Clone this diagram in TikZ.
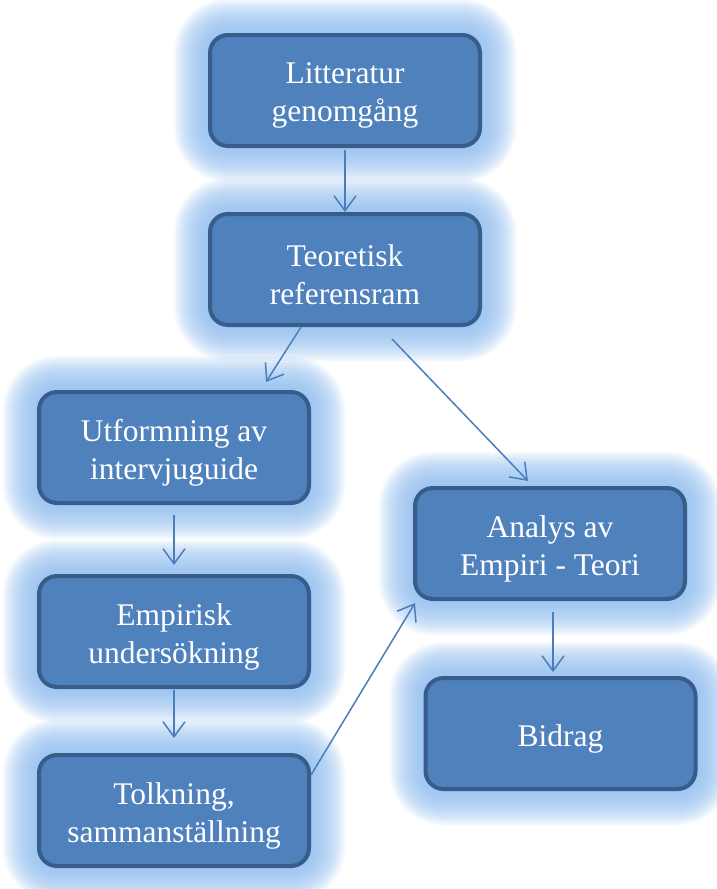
\documentclass[tikz,border=0pt]{standalone}
\usepackage{fontspec}
\setmainfont{Liberation Serif}
\usetikzlibrary{arrows.meta,backgrounds}

\definecolor{boxfill}{RGB}{79,129,189}
\definecolor{boxline}{RGB}{56,93,138}
\definecolor{arrowcol}{RGB}{74,126,187}
\definecolor{glowcol}{RGB}{140,186,238}

\tikzset{
  stepbox/.style={draw=boxline, fill=boxfill, line width=4pt,
    rounded corners=18pt, minimum width=270pt, minimum height=111pt},
  boxtext/.style={align=center, text=white, yshift=-5pt,
    font=\fontsize{31.5}{38}\selectfont},
  flow/.style={draw=arrowcol, line width=1.5pt,
    -{Straight Barb[length=15pt,width=22pt,line width=1.5pt]}},
  glowring/.style={draw=glowcol, opacity=0.095, line join=round,
    rounded corners=20pt}
}

% soft halo around a box, built from stacked translucent strokes
\newcommand\haloaround[1]{%
  \foreach \w in {4,8,...,68}{%
    \draw[glowring, line width=\w pt] (#1.south west) rectangle (#1.north east);
  }%
}

\begin{document}
\begin{tikzpicture}[x=1pt,y=-1pt]
\useasboundingbox (0,0) rectangle (716,889);

\node[stepbox, label={[boxtext]center:Litteratur\\genomgång}] (lit) at (345,90.5) {};
\node[stepbox, label={[boxtext]center:Teoretisk\\referensram}] (teo) at (345,269.5) {};
\node[stepbox, label={[boxtext]center:Utformning av\\intervjuguide}] (utf) at (174,447.5) {};
\node[stepbox, label={[boxtext]center:Empirisk\\undersökning}] (emp) at (174,631.5) {};
\node[stepbox, label={[boxtext]center:Tolkning,\\sammanställning}] (tol) at (174,810.5) {};
\node[stepbox, label={[boxtext]center:Analys av\\Empiri - Teori}] (ana) at (550,543.5) {};
\node[stepbox, label={[boxtext]center:Bidrag}] (bid) at (560.5,733.5) {};

\begin{scope}[on background layer]
  \foreach \n in {lit,teo,utf,emp,tol,ana,bid}{\haloaround{\n}}
\end{scope}

\draw[flow] ([yshift=-2pt]lit.south) -- (teo.north);
\draw[flow] ([xshift=-44pt]teo.south) -- ([xshift=92pt,yshift=8pt]utf.north);
\draw[flow] ([xshift=47pt,yshift=-12pt]teo.south) -- ([xshift=-22pt,yshift=5pt]ana.north);
\draw[flow] ([yshift=-10pt]utf.south) -- ([yshift=9pt]utf.south |- emp.north);
\draw[flow] ([yshift=-1pt]emp.south) -- ([yshift=15pt]tol.north);
\draw[flow] ([yshift=35.5pt]tol.east) -- ([xshift=2pt,yshift=-2pt]ana.south west);
\draw[flow] ([xshift=3pt,yshift=-11pt]ana.south) -- ([xshift=-7.5pt,yshift=4pt]bid.north);
\end{tikzpicture}
\end{document}
